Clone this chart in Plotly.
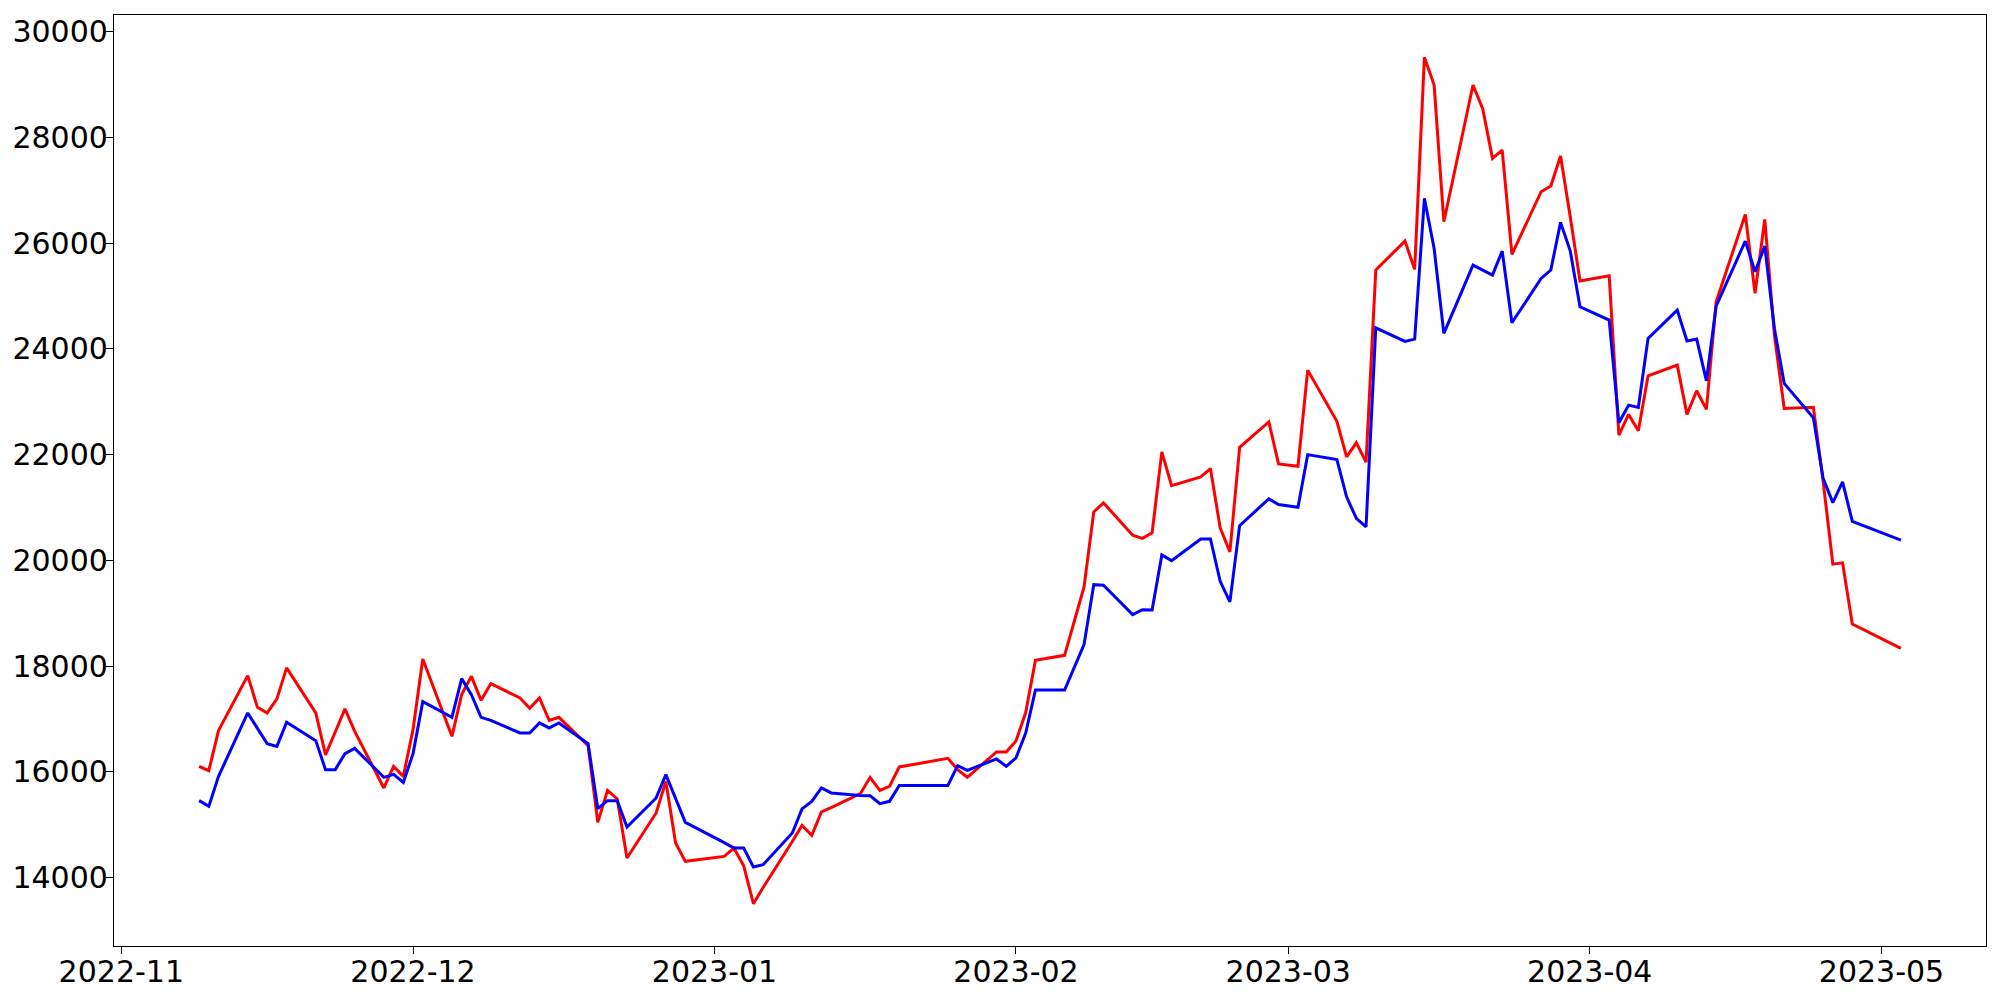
import plotly.graph_objects as go
import pandas as pd

dates = [
    "2022-11-09", "2022-11-10", "2022-11-11", "2022-11-14", "2022-11-15", "2022-11-16", "2022-11-17", "2022-11-18",
    "2022-11-21", "2022-11-22", "2022-11-23", "2022-11-24", "2022-11-25", "2022-11-28", "2022-11-29", "2022-11-30",
    "2022-12-01", "2022-12-02", "2022-12-05", "2022-12-06", "2022-12-07", "2022-12-08", "2022-12-09",
    "2022-12-12", "2022-12-13", "2022-12-14", "2022-12-15", "2022-12-16", "2022-12-19", "2022-12-20",
    "2022-12-21", "2022-12-22", "2022-12-23", "2022-12-26", "2022-12-27", "2022-12-28", "2022-12-29",
    "2023-01-02", "2023-01-03", "2023-01-04", "2023-01-05", "2023-01-06", "2023-01-09", "2023-01-10",
    "2023-01-11", "2023-01-12", "2023-01-13", "2023-01-16", "2023-01-17", "2023-01-18", "2023-01-19",
    "2023-01-20", "2023-01-25", "2023-01-26", "2023-01-27", "2023-01-30", "2023-01-31",
    "2023-02-01", "2023-02-02", "2023-02-03", "2023-02-06", "2023-02-08", "2023-02-09", "2023-02-10",
    "2023-02-13", "2023-02-14", "2023-02-15", "2023-02-16", "2023-02-17", "2023-02-20", "2023-02-21",
    "2023-02-22", "2023-02-23", "2023-02-24", "2023-02-27", "2023-02-28",
    "2023-03-02", "2023-03-03", "2023-03-06", "2023-03-07", "2023-03-08", "2023-03-09", "2023-03-10",
    "2023-03-13", "2023-03-14", "2023-03-15", "2023-03-16", "2023-03-17", "2023-03-20", "2023-03-21",
    "2023-03-22", "2023-03-23", "2023-03-24", "2023-03-27", "2023-03-28", "2023-03-29", "2023-03-30",
    "2023-03-31", "2023-04-03", "2023-04-04", "2023-04-05", "2023-04-06", "2023-04-07", "2023-04-10",
    "2023-04-11", "2023-04-12", "2023-04-13", "2023-04-14", "2023-04-17", "2023-04-18", "2023-04-19",
    "2023-04-20", "2023-04-21", "2023-04-24", "2023-04-25", "2023-04-26", "2023-04-27", "2023-04-28",
    "2023-05-03",
]

red_values = [
    16101, 16020, 16777, 17818, 17218, 17112, 17377, 17964,
    17112, 16317, 16752, 17188, 16764, 15692, 16101, 15912,
    16796, 18134, 16669, 17458, 17805, 17350, 17666,
    17396, 17199, 17396, 16972, 17029, 16493, 15041,
    15647, 15484, 14367, 15219, 15817, 14651, 14303,
    14397, 14556, 14221, 13502, 13807, 14680, 14984,
    14795, 15238, 15321, 15584, 15893, 15647, 15722,
    16090, 16252, 16039, 15893, 16374, 16374,
    16580, 17120, 18107, 18202, 19497, 20917, 21087,
    20474, 20417, 20519, 22052, 21414, 21579, 21736,
    20614, 20159, 22139, 22620, 21825,
    21780, 23600, 22631, 21960, 22225, 21860, 25494,
    26042, 25507, 29520, 28995, 26408, 28995, 28541,
    27608, 27765, 25791, 26976, 27084, 27651, 26500,
    25285, 25386, 22370, 22762, 22452, 23493, 23695,
    22762, 23209, 22857, 24893, 26548, 25052, 26453,
    24250, 22876, 22895, 21500, 19928, 19953, 18793,
    18333,
]

blue_values = [
    15452, 15344, 15912, 17112, 16820, 16531, 16480, 16934,
    16588, 16039, 16039, 16341, 16442, 15893, 15950, 15798,
    16341, 17326, 17029, 17761, 17458, 17029, 16972,
    16733, 16733, 16923, 16828, 16923, 16531, 15300,
    15452, 15452, 14954, 15503, 15944, 15476, 15041,
    14657, 14556, 14556, 14197, 14240, 14840, 15295,
    15439, 15692, 15598, 15550, 15546, 15395, 15439,
    15741, 15741, 16114, 16025, 16241, 16101,
    16260, 16733, 17545, 17545, 18405, 19540, 19530,
    18973, 19067, 19060, 20103, 19995, 20405, 20405,
    19603, 19213, 20657, 21163, 21055,
    21004, 22001, 21906, 21202, 20793, 20635, 24401,
    24144, 24187, 26851, 25904, 24295, 25588, 25494,
    25399, 25853, 24496, 25336, 25494, 26396, 25853,
    24799, 24547, 22603, 22938, 22895, 24201, 24736,
    24150, 24187, 23398, 24812, 26042, 25461, 25948,
    24380, 23349, 22698, 21551, 21093, 21486, 20736,
    20383,
]

y_ticks = [14000, 16000, 18000, 20000, 22000, 24000, 26000, 28000, 30000]

# matplotlib-like 5% autoscale margins
d = pd.to_datetime(dates)
span = d.max() - d.min()
x_range = [d.min() - span * 0.05, d.max() + span * 0.05]
all_vals = red_values + blue_values
vspan = max(all_vals) - min(all_vals)
y_range = [min(all_vals) - 0.05 * vspan, max(all_vals) + 0.05 * vspan]

fig = go.Figure()
fig.add_trace(go.Scatter(x=dates, y=red_values, mode="lines",
                         line=dict(color="#ff0000", width=3), showlegend=False))
fig.add_trace(go.Scatter(x=dates, y=blue_values, mode="lines",
                         line=dict(color="#0000ff", width=3), showlegend=False))

axis_common = dict(showgrid=False, zeroline=False, showline=True, linecolor="black",
                   linewidth=1.3, mirror=True, ticks="outside", ticklen=7, tickwidth=1.3,
                   automargin=False,
                   tickcolor="black", tickfont=dict(family="DejaVu Sans", size=30, color="black"))

# page body has an 8px margin; offsets below account for it
fig.update_layout(
    width=1992, height=992,
    margin=dict(l=106, r=14, t=7, b=54),
    paper_bgcolor="white", plot_bgcolor="white",
    xaxis=dict(type="date", range=[x_range[0].isoformat(), x_range[1].isoformat()],
               tick0="2022-11-01", dtick="M1", tickformat="%Y-%m",
               ticklabelstandoff=-8, **axis_common),
    yaxis=dict(range=y_range, tickvals=y_ticks, ticktext=[str(v) for v in y_ticks],
               ticklabelstandoff=-8, **axis_common),
)

fig.write_html("out.html")
